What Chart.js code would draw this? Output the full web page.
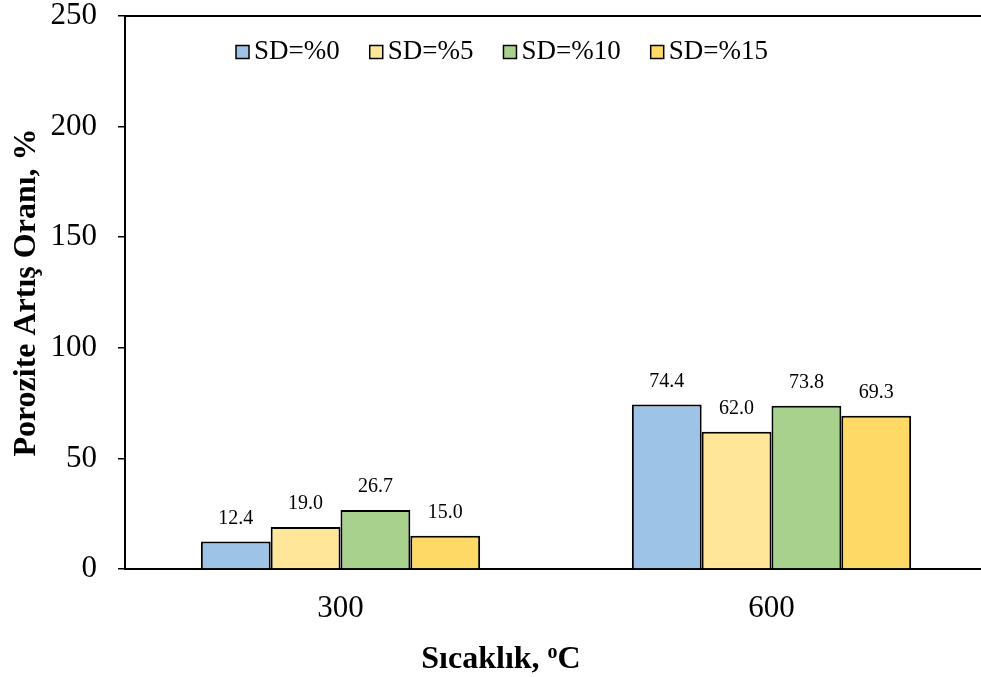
<!DOCTYPE html>
<html>
<head>
<meta charset="utf-8">
<script src="https://cdn.jsdelivr.net/npm/chart.js@4"></script>
<style>
  html, body { margin: 0; padding: 0; background: #fff; overflow: hidden; }
  #wrap { width: 990px; height: 677px; }
</style>
</head>
<body>
<div id="wrap"><canvas id="myChart" width="990" height="677"></canvas></div>
<script>
// data
const categories = ['300', '600'];
const seriesNames = ['SD=%0', 'SD=%5', 'SD=%10', 'SD=%15'];
const sd0 = [12.4, 74.4];
const sd5 = [19.0, 62.0];
const sd10 = [26.7, 73.8];
const sd15 = [15.0, 69.3];
const yTicks = [0, 50, 100, 150, 200, 250];

const colors = ['#9DC3E6', '#FFE699', '#A9D18E', '#FFD966'];
const serif = "'Liberation Serif', 'Times New Roman', serif";

// top border line of the plot area
const topLine = {
  id: 'topLine',
  afterDraw(chart) {
    const { ctx, chartArea } = chart;
    ctx.save();
    ctx.strokeStyle = '#000';
    ctx.lineWidth = 2;
    ctx.beginPath();
    ctx.moveTo(chartArea.left, chartArea.top);
    ctx.lineTo(chartArea.right, chartArea.top);
    ctx.stroke();
    ctx.restore();
  }
};

// value labels above bars
const valueLabels = {
  id: 'valueLabels',
  afterDatasetsDraw(chart) {
    const ctx = chart.ctx;
    ctx.save();
    ctx.font = '20px ' + serif;
    ctx.fillStyle = '#000';
    ctx.textAlign = 'center';
    ctx.textBaseline = 'middle';
    chart.data.datasets.forEach((ds, i) => {
      chart.getDatasetMeta(i).data.forEach((bar, j) => {
        ctx.fillText(ds.data[j].toFixed(1), bar.x, bar.y - 23);
      });
    });
    ctx.restore();
  }
};

// legend inside the plot, drawn by hand
const innerLegend = {
  id: 'innerLegend',
  afterDraw(chart) {
    const ctx = chart.ctx;
    ctx.save();
    ctx.font = '27px ' + serif;
    ctx.textBaseline = 'middle';
    let x = 236;
    const y = 52;
    chart.data.datasets.forEach(ds => {
      ctx.fillStyle = ds.backgroundColor;
      ctx.fillRect(x, y - 6.5, 13, 13);
      ctx.strokeStyle = '#000';
      ctx.lineWidth = 1.5;
      ctx.strokeRect(x, y - 6.5, 13, 13);
      ctx.fillStyle = '#000';
      ctx.fillText(ds.label, x + 18, y);
      x += 18 + ctx.measureText(ds.label).width + 30;
    });
    ctx.restore();
  }
};

// x axis title with superscript
const xTitle = {
  id: 'xTitle',
  afterDraw(chart) {
    const ctx = chart.ctx;
    ctx.save();
    ctx.fillStyle = '#000';
    ctx.textBaseline = 'alphabetic';
    const main = 'Sıcaklık, ';
    const sup = 'o';
    const tail = 'C';
    const big = 'bold 32px ' + serif;
    const small = 'bold 20px ' + serif;
    ctx.font = big;
    const w1 = ctx.measureText(main).width;
    const w3 = ctx.measureText(tail).width;
    ctx.font = small;
    const w2 = ctx.measureText(sup).width;
    let x = 501 - (w1 + w2 + w3) / 2;
    const base = 668;
    ctx.font = big;
    ctx.fillText(main, x, base);
    x += w1;
    ctx.font = small;
    ctx.fillText(sup, x, base - 10);
    x += w2;
    ctx.font = big;
    ctx.fillText(tail, x, base);
    ctx.restore();
  }
};

const datasetValues = [sd0, sd5, sd10, sd15];

new Chart(document.getElementById('myChart'), {
  type: 'bar',
  data: {
    labels: categories,
    datasets: seriesNames.map((name, i) => ({
      label: name,
      data: datasetValues[i],
      backgroundColor: colors[i],
      borderColor: '#000',
      borderWidth: 2,
      barPercentage: 1,
      categoryPercentage: 0.648
    }))
  },
  options: {
    responsive: false,
    animation: false,
    devicePixelRatio: 1,
    layout: { padding: { top: 16, right: 3, left: 0, bottom: 0 } },
    plugins: {
      legend: { display: false },
      tooltip: { enabled: false }
    },
    scales: {
      x: {
        grid: { display: false },
        border: { display: true, color: '#000', width: 2 },
        ticks: {
          color: '#000',
          font: { family: serif, size: 31 },
          padding: 13
        },
        afterFit(scale) { scale.height = 108; }
      },
      y: {
        min: 0,
        max: 250,
        afterBuildTicks(scale) { scale.ticks = yTicks.map(v => ({ value: v })); },
        grid: {
          drawOnChartArea: false,
          drawTicks: true,
          tickLength: 7,
          color: '#000',
          lineWidth: 1.5
        },
        border: { display: true, color: '#000', width: 2 },
        ticks: {
          color: '#000',
          font: { family: serif, size: 31, lineHeight: 1 },
          padding: 21
        },
        title: {
          display: true,
          text: 'Porozite Artış Oranı, %',
          color: '#000',
          font: { family: serif, size: 32, weight: 'bold' },
          padding: { top: 8, bottom: 0 }
        },
        afterFit(scale) {
          scale.width = 125;
          scale.paddingTop = 0;
          scale.paddingBottom = 0;
        }
      }
    }
  },
  plugins: [topLine, valueLabels, innerLegend, xTitle]
});
</script>
</body>
</html>
